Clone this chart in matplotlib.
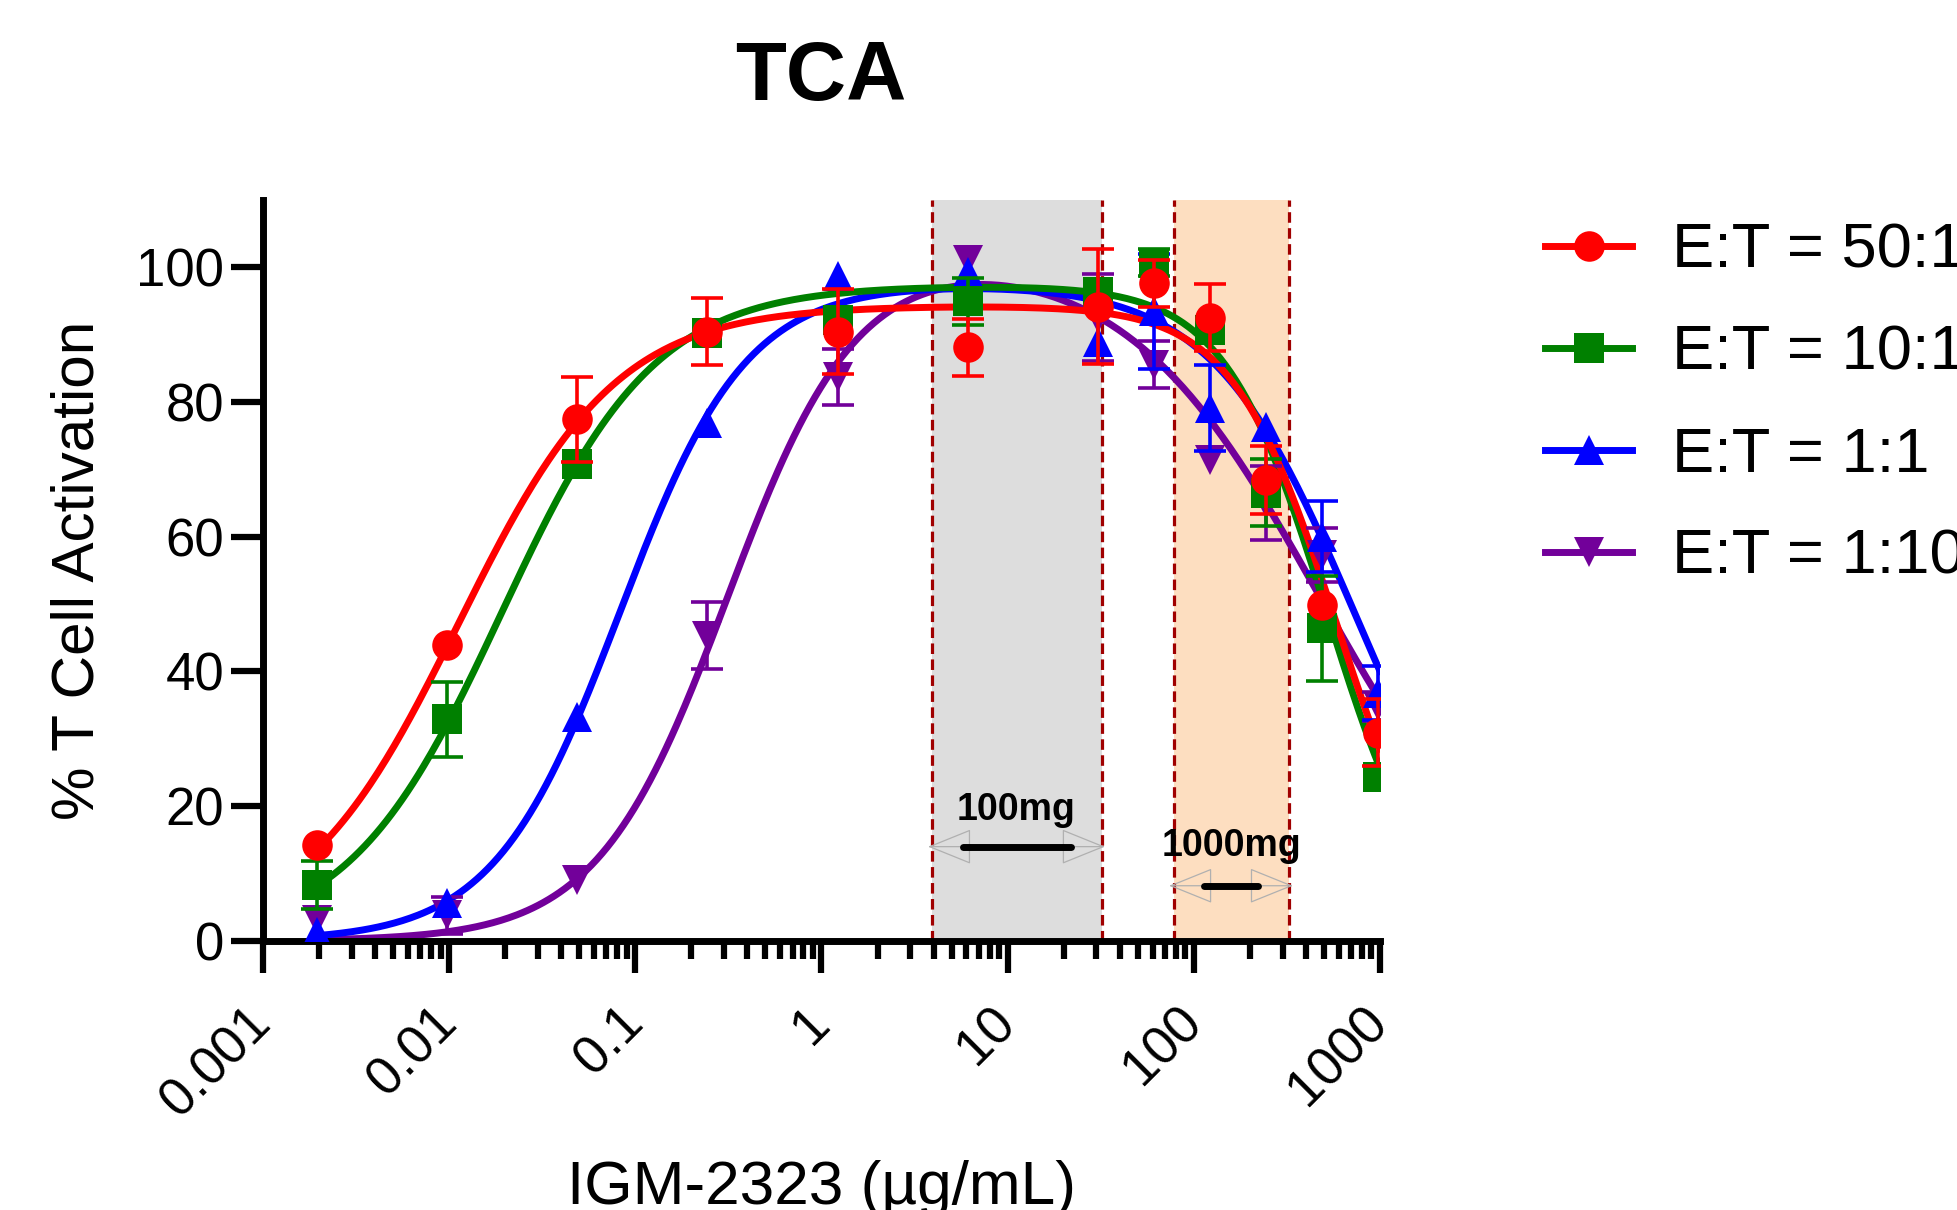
import numpy as np
import matplotlib.pyplot as plt
from matplotlib.lines import Line2D
from matplotlib.patches import FancyArrowPatch, ArrowStyle
from matplotlib.ticker import LogLocator, NullFormatter

plt.rcParams['font.family'] = ['Liberation Sans', 'DejaVu Sans']

# IGM-2323 concentration (ug/mL)
conc = [0.00195, 0.00977, 0.0488, 0.244, 1.22, 6.1, 30.5, 61, 122, 244, 488, 976]

series_labels = ['E:T = 50:1', 'E:T = 10:1', 'E:T = 1:1', 'E:T = 1:10']
series_colors = ['#FF0000', '#008000', '#0000FF', '#72009A']
series_markers = ['o', 's', '^', 'v']

nan = np.nan  # SD hidden behind the symbol

# % T cell activation, mean and SD
act_50 = [14.3, 43.9, 77.4, 90.4, 90.4, 88.1, 94.1, 97.6, 92.5, 68.4, 49.9, 30.9]
sd_50 = [nan, nan, 6.3, 5.0, 6.3, 4.2, 8.5, 3.5, 5.0, 5.0, nan, 5.0]
act_10 = [8.3, 32.9, 70.8, 90.2, 92.1, 94.9, 96.3, 100.6, 90.6, 66.5, 46.4, 24.4]
sd_10 = [3.5, 5.6, nan, nan, nan, 3.5, nan, 2.0, nan, 5.0, 7.8, nan]
act_1 = [1.4, 5.6, 33.3, 76.8, 98.6, 99.3, 88.9, 93.4, 79.1, 76.3, 60.0, 36.8]
sd_1 = [nan, nan, nan, nan, nan, nan, nan, 8.6, 6.4, nan, 5.3, 4.0]
act_01 = [3.1, 3.8, 9.0, 45.3, 83.7, 101.0, 92.5, 85.5, 71.4, 65.0, 57.3, 34.8]
sd_01 = [nan, 2.8, nan, 5.0, 4.2, nan, 6.4, 3.5, nan, 5.5, 4.0, 2.2]

means = [act_50, act_10, act_1, act_01]
sds = [sd_50, sd_10, sd_1, sd_01]

# bell-shaped fit parameters (top, EC50 up, hill up, EC50 down, hill down)
fit_top = [94.3, 97.3, 97.6, 102.5]
fit_ec_up = [0.01125, 0.0191, 0.0826, 0.314]
fit_h_up = [1.02, 1.05, 1.28, 1.24]
fit_ec_down = [583, 520, 727, 472]
fit_h_down = [1.55, 1.57, 1.14, 0.83]

band_100 = (3.94, 32.2)
band_1000 = (78.3, 323.6)

xtick_vals = [0.001, 0.01, 0.1, 1, 10, 100, 1000]
xtick_labels = ['0.001', '0.01', '0.1', '1', '10', '100', '1000']


def bell(x, top, ec1, h1, ec2, h2):
    return top / (1 + (ec1 / x) ** h1) / (1 + (x / ec2) ** h2)


fig = plt.figure(figsize=(19.57, 12.10), dpi=100)
ax = fig.add_axes([0.13439, 0.22231, 0.57077, 0.61273])

ax.axvspan(*band_100, color='#DDDDDD', lw=0, zorder=0)
ax.axvspan(*band_1000, color='#FDDEC0', lw=0, zorder=0)
for xv in list(band_100) + list(band_1000):
    ax.axvline(xv, color='#A00000', lw=2.3, ls=(0, (3.3, 1.7)), zorder=1)

xfit = np.logspace(np.log10(conc[0]), 3, 400)
for i in reversed(range(4)):
    z = (3 - i) * 0.1
    yfit = bell(xfit, fit_top[i], fit_ec_up[i], fit_h_up[i], fit_ec_down[i], fit_h_down[i])
    ax.plot(xfit, yfit, color=series_colors[i], lw=5, zorder=2 + z)
    err = np.array(sds[i])
    ok = ~np.isnan(err)
    ax.errorbar(np.array(conc)[ok], np.array(means[i])[ok], yerr=err[ok], fmt='none',
                ecolor=series_colors[i], elinewidth=2.6, capsize=11.5, capthick=2.6, zorder=3 + z)
    ax.plot(conc, means[i], ls='none', marker=series_markers[i], color=series_colors[i],
            ms=22, mew=0, zorder=3.05 + z)

# dose range arrows
gray = '#B0B0B0'
style = ArrowStyle('<|-|>', head_length=28.7, head_width=11.6)
for (xa, xb), y, (ba, bb) in [((3.73, 33.3), 14.0, (5.74, 21.8)),
                              ((73.6, 341), 8.2, (113, 221))]:
    ax.add_patch(FancyArrowPatch((xa, y), (xb, y), arrowstyle=style, mutation_scale=1,
                                 fc='none', ec=gray, lw=0.9, shrinkA=0, shrinkB=0, zorder=4))
    ax.plot([ba, bb], [y, y], color='black', lw=5, solid_capstyle='round', zorder=5)
ax.text(11.07, 17.95, '100mg', ha='center', va='baseline', fontsize=27, fontweight='bold', zorder=6)
ax.text(159, 12.6, '1000mg', ha='center', va='baseline', fontsize=27, fontweight='bold', zorder=6)

ax.set_xscale('log')
ax.set_xlim(0.001, 1000)
ax.set_ylim(0, 110)
ax.set_xticks(xtick_vals)
ax.set_xticklabels(xtick_labels)
ax.xaxis.set_minor_locator(LogLocator(base=10, subs=np.arange(2, 10), numticks=100))
ax.xaxis.set_minor_formatter(NullFormatter())
ax.set_yticks([0, 20, 40, 60, 80, 100])

ax.tick_params(axis='both', which='major', length=23, width=4.5, direction='out', labelsize=38)
ax.tick_params(axis='x', which='minor', length=13, width=4.5, direction='out')
ax.tick_params(axis='y', which='major', pad=5)
ax.tick_params(axis='x', which='major', pad=30.3)
for lab in ax.get_xticklabels():
    lab.set_rotation(45)
    lab.set_ha('right')
    lab.set_va('center')
    lab.set_rotation_mode('anchor')

for s in ['top', 'right']:
    ax.spines[s].set_visible(False)
for s in ['left', 'bottom']:
    ax.spines[s].set_linewidth(5)

ax.set_xlabel('IGM-2323 (µg/mL)', fontsize=44.7)
ax.xaxis.set_label_coords(0.5, -0.296)
ax.set_ylabel('% T Cell Activation', fontsize=43.4)
ax.yaxis.set_label_coords(-0.1406, 0.5)

fig.text(0.4195, 1 - 100 / 1210, 'TCA', ha='center', va='baseline', fontsize=60, fontweight='bold')

handles = [Line2D([], [], color=c, marker=m, ms=22, mew=0, lw=5)
           for c, m in zip(series_colors, series_markers)]
ax.legend(handles, series_labels, loc='upper left', bbox_to_anchor=(1545 / 1957, 1 - 222 / 1210),
          bbox_transform=fig.transFigure, frameon=False, fontsize=45.5, handlelength=1.38,
          handletextpad=0.63, labelspacing=0.68, borderpad=0, borderaxespad=0)

fig.savefig('out.png', dpi=100)
